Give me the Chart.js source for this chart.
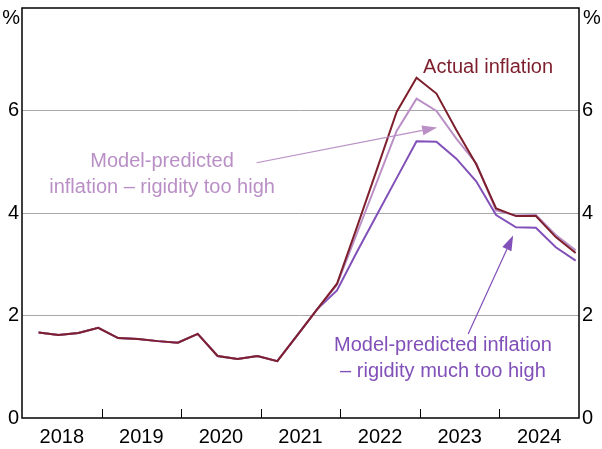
<!DOCTYPE html>
<html>
<head>
<meta charset="utf-8">
<script src="https://cdn.jsdelivr.net/npm/chart.js@4.4.1/dist/chart.umd.min.js"></script>
<style>
  html, body { margin: 0; padding: 0; background: #fff; }
  canvas { display: block; }
</style>
</head>
<body>
<canvas id="inflationChart" width="602" height="449"></canvas>
<script>
// quarters (month of quarter end)
const quarters = [
  '2018-03', '2018-06', '2018-09', '2018-12',
  '2019-03', '2019-06', '2019-09', '2019-12',
  '2020-03', '2020-06', '2020-09', '2020-12',
  '2021-03', '2021-06', '2021-09', '2021-12',
  '2022-03', '2022-06', '2022-09', '2022-12',
  '2023-03', '2023-06', '2023-09', '2023-12',
  '2024-03', '2024-06', '2024-09', '2024-12'
];

const actual = [
  1.67, 1.62, 1.66, 1.76,
  1.56, 1.54, 1.50, 1.47,
  1.64, 1.21, 1.15, 1.21,
  1.11, 1.61, 2.12, 2.62,
  3.72, 4.84, 5.97, 6.64,
  6.33, 5.62, 4.95, 4.09,
  3.94, 3.94, 3.53, 3.22
];

// model - rigidity too high
const rigidityHigh = [
  1.67, 1.62, 1.66, 1.76,
  1.56, 1.54, 1.50, 1.47,
  1.64, 1.21, 1.15, 1.21,
  1.11, 1.61, 2.12, 2.60,
  3.60, 4.60, 5.60, 6.23,
  5.99, 5.45, 4.97, 4.05,
  3.95, 3.96, 3.57, 3.27
];

// model - rigidity much too high
const rigidityMuchHigh = [
  1.67, 1.62, 1.66, 1.76,
  1.56, 1.54, 1.50, 1.47,
  1.64, 1.21, 1.15, 1.21,
  1.11, 1.61, 2.12, 2.49,
  3.24, 3.96, 4.68, 5.40,
  5.39, 5.06, 4.62, 3.96,
  3.72, 3.71, 3.33, 3.07
];

const yearLabels = ['2018', '2019', '2020', '2021', '2022', '2023', '2024'];
const yTicks = [0, 2, 4, 6];

const RED = '#7d1f2d';
const LILAC = '#b98fc6';
const PURPLE = '#8150b8';

// put each quarter in the middle of its last month
function toX(q) {
  const parts = q.split('-');
  return Number(parts[0]) + (Number(parts[1]) - 0.5) / 12;
}
function points(vals) {
  return vals.map((v, i) => ({ x: toX(quarters[i]), y: v }));
}

// arrows and notes, in data units
const notes = [
  { text: ['Actual inflation'], x: 2023.04, y: 6.74, align: 'left', color: RED },
  { text: ['Model-predicted', 'inflation \u2013 rigidity too high'], x: 2019.76, y: 4.89, align: 'center', color: LILAC },
  { text: ['Model-predicted inflation', '\u2013 rigidity much too high'], x: 2023.29, y: 1.30, align: 'center', color: PURPLE }
];
const arrows = [
  { from: [2020.948, 4.98], to: [2023.217, 5.67], color: LILAC },
  { from: [2023.607, 1.64], to: [2024.172, 3.56], color: PURPLE }
];

const decorations = {
  id: 'decorations',
  afterDatasetsDraw(chart) {
    const { ctx, chartArea: a, scales } = chart;
    const px = v => scales.x.getPixelForValue(v);
    const py = v => scales.y.getPixelForValue(v);
    ctx.save();

    // box
    ctx.strokeStyle = '#000';
    ctx.lineWidth = 1.5;
    ctx.strokeRect(a.left, a.top, a.right - a.left, a.bottom - a.top);

    // year ticks, inside the plot
    ctx.lineWidth = 1;
    for (let yr = 2019; yr <= 2024; yr++) {
      const x = Math.round(px(yr)) + 0.5;
      ctx.beginPath();
      ctx.moveTo(x, a.bottom);
      ctx.lineTo(x, a.bottom - 9);
      ctx.stroke();
    }

    // unit labels
    ctx.fillStyle = '#000';
    ctx.font = '20px "Liberation Sans", Arial, sans-serif';
    ctx.textBaseline = 'middle';
    ctx.textAlign = 'right';
    ctx.fillText('%', a.left - 2, a.top + 10);
    ctx.textAlign = 'left';
    ctx.fillText('%', a.right + 4, a.top + 10);

    // notes
    ctx.textBaseline = 'alphabetic';
    notes.forEach(n => {
      ctx.fillStyle = n.color;
      ctx.textAlign = n.align;
      n.text.forEach((line, i) => ctx.fillText(line, px(n.x), py(n.y) + i * 26));
    });

    // arrows
    arrows.forEach(ar => {
      const x1 = px(ar.from[0]), y1 = py(ar.from[1]);
      const x2 = px(ar.to[0]), y2 = py(ar.to[1]);
      const ang = Math.atan2(y2 - y1, x2 - x1);
      const len = 15, half = 5;
      const bx = x2 - len * Math.cos(ang), by = y2 - len * Math.sin(ang);
      ctx.strokeStyle = ar.color;
      ctx.fillStyle = ar.color;
      ctx.lineWidth = 1.2;
      ctx.beginPath();
      ctx.moveTo(x1, y1);
      ctx.lineTo(bx, by);
      ctx.stroke();
      ctx.beginPath();
      ctx.moveTo(x2, y2);
      ctx.lineTo(bx + half * Math.sin(ang), by - half * Math.cos(ang));
      ctx.lineTo(bx - half * Math.sin(ang), by + half * Math.cos(ang));
      ctx.closePath();
      ctx.fill();
    });

    ctx.restore();
  }
};

function renderChart() {
  Chart.defaults.font.family = '"Liberation Sans", Arial, sans-serif';
  Chart.defaults.font.size = 20;
  Chart.defaults.color = '#000';

  const yAxis = (pos, width) => ({
    type: 'linear',
    position: pos,
    min: 0,
    max: 8,
    afterBuildTicks: s => { s.ticks = yTicks.map(v => ({ value: v })); },
    afterFit: s => {
      s.width = width;
      s.paddingTop = 0;
      s.paddingBottom = 0;
    },
    border: { display: false },
    grid: {
      display: pos === 'left',
      drawTicks: false,
      color: c => (c.tick.value === 0 ? 'rgba(0,0,0,0)' : '#a8a8a8'),
      lineWidth: 1
    },
    ticks: { padding: 3 }
  });

  const ctx = document.getElementById('inflationChart').getContext('2d');
  new Chart(ctx, {
    type: 'line',
    data: {
      datasets: [
        { label: 'Actual inflation', data: points(actual), borderColor: RED, order: 0 },
        { label: 'Rigidity too high', data: points(rigidityHigh), borderColor: LILAC, order: 1 },
        { label: 'Rigidity much too high', data: points(rigidityMuchHigh), borderColor: PURPLE, order: 2 }
      ]
    },
    options: {
      responsive: false,
      animation: false,
      layout: { padding: { top: 8, left: 0, right: 0, bottom: 0 } },
      elements: {
        line: { borderWidth: 2, tension: 0, fill: false },
        point: { radius: 0 }
      },
      scales: {
        x: {
          type: 'linear',
          min: 2018,
          max: 2025,
          afterBuildTicks: s => {
            s.ticks = yearLabels.map(y => ({ value: Number(y) + 0.5 }));
          },
          afterFit: s => {
            s.height = 31;
            s.paddingLeft = 0;
            s.paddingRight = 0;
          },
          border: { display: false },
          grid: { display: false, drawTicks: false },
          ticks: {
            autoSkip: false,
            maxRotation: 0,
            padding: 7,
            callback: v => String(Math.floor(v))
          }
        },
        y: yAxis('left', 22),
        y2: yAxis('right', 23)
      },
      plugins: {
        legend: { display: false },
        tooltip: { enabled: false }
      }
    },
    plugins: [decorations]
  });
}

document.addEventListener('DOMContentLoaded', renderChart);
</script>
</body>
</html>
